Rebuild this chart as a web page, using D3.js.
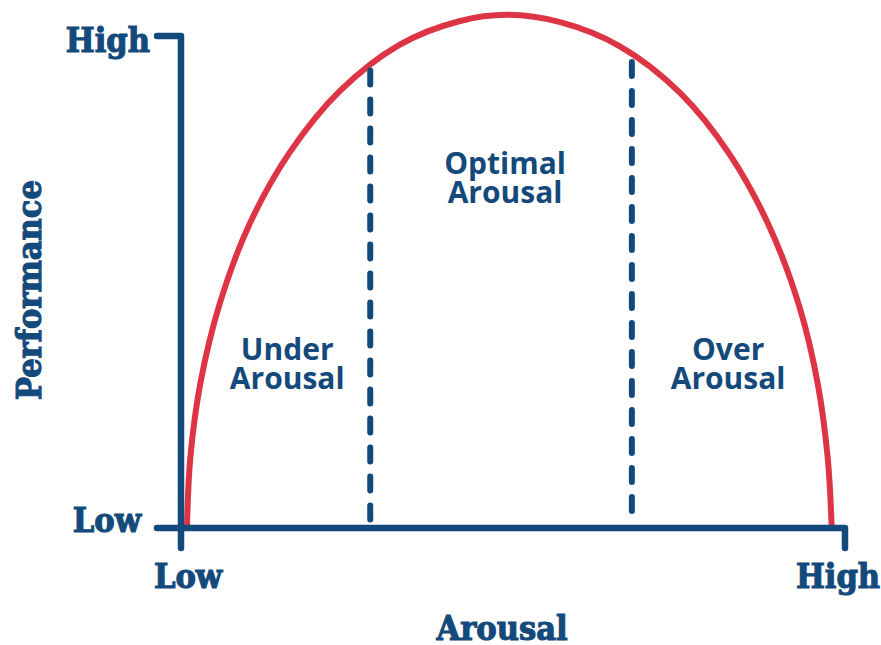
<!DOCTYPE html>
<html>
<head>
<meta charset="utf-8">
<script src="https://cdn.jsdelivr.net/npm/d3@7"></script>
<style>
  html, body { margin: 0; padding: 0; background: #fff; }
</style>
</head>
<body>
<svg class="chart"></svg>
<script>
// ----- Data -----
// arousal (0-100) vs performance (0-100)
let arousal     = [0.9, 1.4, 2.9, 5.9, 10.4, 16.4, 23.9, 32.9, 41.9, 49.2, 57.1, 66.1, 75.2, 82.7, 88.7, 93.2, 95.9, 97.4, 98.0]
let performance = [0, 14.2, 29.3, 45.9, 62.0, 76.4, 88.8, 98.2, 103.0, 104.3, 102.8, 97.9, 88.4, 75.8, 61.0, 44.7, 29.3, 14.2, 0]

// dashed boundaries between zones
let boundaryX   = [28.5, 67.9]
let boundaryTop = [93.0, 94.7]

let zoneLabels = [['Under', 'Arousal'], ['Optimal', 'Arousal'], ['Over', 'Arousal']]
let zoneX      = [16.0, 48.8, 82.4]
let zoneY      = [34.2, 72.0, 34.2]

let xTickLabels = ['Low', 'High']
let yTickLabels = ['Low', 'High']
let xTitle = 'Arousal'
let yTitle = 'Performance'

// ----- SVG -----
let svgWidth = 881
let svgHeight = 645
let svg = d3.select('.chart')
            .attr('width', svgWidth)
            .attr('height', svgHeight)

let blue = '#134a7b'
let red = '#dd3545'
let slab = '"DejaVu Serif", serif'
let sans = '"Open Sans", "Noto Sans", sans-serif'

let x = d3.scaleLinear().domain([0, 100]).range([181, 845])
let y = d3.scaleLinear().domain([0, 100]).range([528, 36])

// Curve
let line = d3.line()
             .x(function (d) { return x(d[0]) })
             .y(function (d) { return y(d[1]) })
             .curve(d3.curveCatmullRom.alpha(0.5))

svg.append('path')
   .datum(d3.zip(arousal, performance))
   .attr('d', line)
   .attr('fill', 'none')
   .attr('stroke', red)
   .attr('stroke-width', 6)
   .attr('stroke-linecap', 'round')

// Dashed boundaries
svg.selectAll('line.boundary')
   .data(boundaryX)
   .enter()
   .append('line')
   .attr('class', 'boundary')
   .attr('x1', function (d) { return x(d) })
   .attr('x2', function (d) { return x(d) })
   .attr('y1', function (d, i) { return y(boundaryTop[i]) })
   .attr('y2', y(0) - 2)
   .attr('stroke', blue)
   .attr('stroke-width', 6)
   .attr('stroke-linecap', 'round')
   .attr('stroke-dasharray', '14,15')

// Axes
let axisY = d3.path()
axisY.moveTo(x(0) - 24, y(100))
axisY.lineTo(x(0), y(100))
axisY.lineTo(x(0), y(0) + 20)
svg.append('path')
   .attr('d', axisY.toString())
   .attr('fill', 'none')
   .attr('stroke', blue)
   .attr('stroke-width', 6.5)
   .attr('stroke-linecap', 'round')
   .attr('stroke-linejoin', 'round')

let axisX = d3.path()
axisX.moveTo(x(0) - 24, y(0))
axisX.lineTo(x(100), y(0))
axisX.lineTo(x(100), y(0) + 20)
svg.append('path')
   .attr('d', axisX.toString())
   .attr('fill', 'none')
   .attr('stroke', blue)
   .attr('stroke-width', 6.5)
   .attr('stroke-linecap', 'round')
   .attr('stroke-linejoin', 'round')

// slab labels, a little stroke to make them heavier
function slabText(sel) {
    sel.attr('font-family', slab)
       .attr('font-weight', 'bold')
       .attr('font-stretch', 'condensed')
       .attr('font-size', '34px')
       .attr('fill', blue)
       .attr('stroke', blue)
       .attr('stroke-width', 1.1)
}

// Tick labels
svg.selectAll('text.ytick')
   .data(yTickLabels)
   .enter()
   .append('text')
   .attr('class', 'ytick')
   .attr('x', function (d, i) { return i == 0 ? x(0) - 40 : x(0) - 31 })
   .attr('y', function (d, i) { return i == 0 ? y(0) + 4 : y(100) + 16 })
   .attr('text-anchor', 'end')
   .call(slabText)
   .text(function (d) { return d })

svg.selectAll('text.xtick')
   .data(xTickLabels)
   .enter()
   .append('text')
   .attr('class', 'xtick')
   .attr('x', function (d, i) { return i == 0 ? x(0) + 7 : x(100) - 7 })
   .attr('y', 588)
   .attr('text-anchor', 'middle')
   .call(slabText)
   .text(function (d) { return d })

// Titles
svg.append('text')
   .attr('x', 502)
   .attr('y', 640)
   .attr('text-anchor', 'middle')
   .call(slabText)
   .text(xTitle)

svg.append('text')
   .attr('transform', 'translate(41,290) rotate(-90)')
   .attr('text-anchor', 'middle')
   .call(slabText)
   .text(yTitle)

// Zone labels
let zones = svg.selectAll('text.zone')
               .data(zoneLabels)
               .enter()
               .append('text')
               .attr('class', 'zone')
               .attr('text-anchor', 'middle')
               .attr('font-family', sans)
               .attr('font-weight', 700)
               .attr('font-size', '30px')
               .attr('fill', blue)

zones.selectAll('tspan')
     .data(function (d, i) { return d.map(function (t, j) { return {t: t, j: j, i: i} }) })
     .enter()
     .append('tspan')
     .attr('x', function (d) { return x(zoneX[d.i]) })
     .attr('y', function (d) { return y(zoneY[d.i]) + d.j * 29 })
     .text(function (d) { return d.t })
</script>
</body>
</html>
